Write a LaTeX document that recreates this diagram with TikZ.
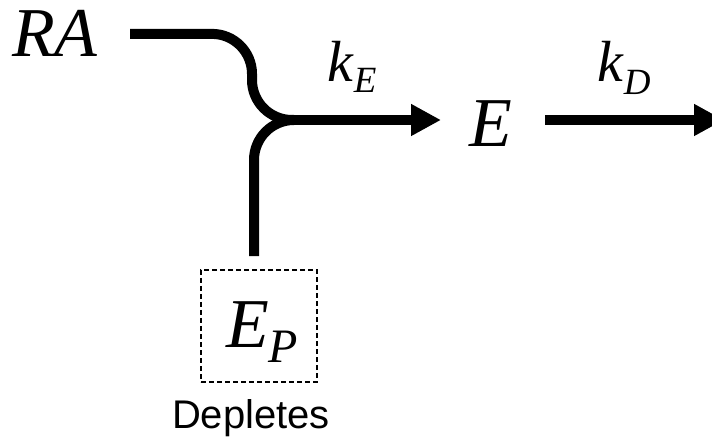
\documentclass[tikz,border=0pt]{standalone}
\usepackage{amsmath}
\usepackage{fontspec}
\setmainfont{Liberation Serif}
\newfontfamily\labelSans{Liberation Sans}
\usepackage{tikz}
\usetikzlibrary{
  arrows.meta,
  calc,
  positioning
}
\definecolor{flowBlack}{HTML}{000000}
\newcommand{\spc}[1]{\textit{#1}}
\newcommand{\rateSub}[4]{\spc{#1}\raisebox{-#4}{\fontsize{#3}{#3}\selectfont\spc{#2}}}
\tikzset{
  speciesNode/.style={
    font=\fontsize{70}{70}\selectfont,
    inner sep=1pt,
    anchor=base west
  },
  rateNode/.style={
    font=\fontsize{58}{58}\selectfont,
    inner sep=1pt,
    anchor=base west
  },
  flowLine/.style={line width=10pt, flowBlack},
  flowArrow/.style={flowLine, -{Triangle[length=30pt, width=30pt]}},
  poolBox/.style={
    draw=flowBlack,
    line width=1.6pt,
    dash pattern=on 5pt off 3pt,
    minimum width=116pt,
    minimum height=112pt,
    inner sep=0pt
  },
  noteLabel/.style={
    font=\labelSans\fontsize{40}{40}\selectfont,
    inner sep=1pt,
    anchor=base
  }
}

\begin{document}
\begin{tikzpicture}[x=1pt,y=-1pt]
  \useasboundingbox (0,0) rectangle (712,438);

  \node[speciesNode] (ra) at (11,57) {\spc{RA}};
  \node[speciesNode] (e) at (468,147) {\spc{E}};
  \node[rateNode] (kE) at (326,82) {\rateSub{k}{E}{37}{11pt}};
  \node[rateNode] (kD) at (596,82) {\rateSub{k}{D}{37}{13pt}};
  \node[poolBox] (ep) at (259,326) {};
  \node[speciesNode] (epLabel) at (225,347) {\rateSub{E}{P}{48}{15pt}};
  \node[noteLabel] (depl) at (251,428) {Depletes};

  \coordinate (join) at (292,120);
  \coordinate (raStart) at ($(ra.east)+(31,0)$);
  \coordinate (bend) at (252,77);
  \coordinate (epTop) at ($(ep.north)+(-5,-13)$);
  \coordinate (out) at (724,120);

  \draw[flowLine, rounded corners=40pt] (raStart) -| (bend);
  \draw[flowLine, rounded corners=40pt] (bend) |- (join);
  \draw[flowLine, rounded corners=40pt] (epTop) |- (join);
  \draw[flowArrow, shorten >=27pt] (join) -- (join -| e.west);
  \draw[flowArrow, shorten <=32pt] (join -| e.east) -- (out);
\end{tikzpicture}
\end{document}
